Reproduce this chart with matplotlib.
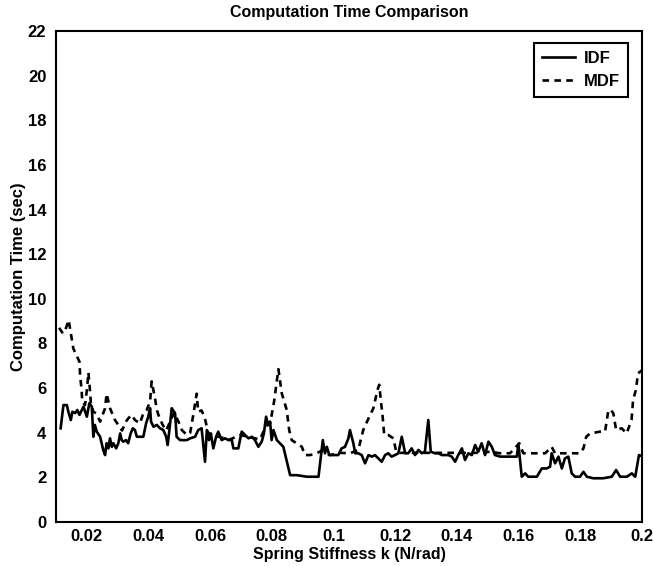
import matplotlib
matplotlib.use('Agg')
import matplotlib.pyplot as plt

plt.rcParams['font.family'] = ['Liberation Sans', 'DejaVu Sans']
plt.rcParams['font.weight'] = 'bold'

# IDF (solid)
idf_k = [0.0115, 0.0124, 0.0135, 0.0140, 0.0148, 0.0153, 0.0162, 0.0169, 0.0176, 0.0183,
         0.0189, 0.0200, 0.0208, 0.0216, 0.0221, 0.0226, 0.0232, 0.0243, 0.0253, 0.0259,
         0.0264, 0.0270, 0.0275, 0.0281, 0.0286, 0.0295, 0.0302, 0.0308, 0.0313, 0.0318,
         0.0327, 0.0334, 0.0342, 0.0349, 0.0356, 0.0362, 0.0372, 0.0383, 0.0392, 0.0399,
         0.0405, 0.0408, 0.0416, 0.0427, 0.0437, 0.0448, 0.0457, 0.0462, 0.0470, 0.0475,
         0.0486, 0.0491, 0.0502, 0.0513, 0.0524, 0.0535, 0.0551, 0.0561, 0.0572, 0.0583,
         0.0589, 0.0596, 0.0602, 0.0610, 0.0619, 0.0626, 0.0637, 0.0648, 0.0659, 0.0670,
         0.0675, 0.0691, 0.0702, 0.0713, 0.0724, 0.0735, 0.0745, 0.0756, 0.0767, 0.0774,
         0.0781, 0.0788, 0.0794, 0.0799, 0.0805, 0.0816, 0.0826, 0.0837, 0.0859, 0.0880,
         0.0913, 0.0951, 0.0965, 0.0972, 0.0978, 0.0986, 0.0999, 0.1015, 0.1026, 0.1037,
         0.1048, 0.1053, 0.1064, 0.1070, 0.1080, 0.1091, 0.1102, 0.1113, 0.1124, 0.1134,
         0.1145, 0.1156, 0.1167, 0.1177, 0.1188, 0.1199, 0.1210, 0.1221, 0.1232, 0.1242,
         0.1253, 0.1264, 0.1275, 0.1286, 0.1296, 0.1307, 0.1315, 0.1329, 0.1340, 0.1351,
         0.1361, 0.1372, 0.1383, 0.1394, 0.1404, 0.1416, 0.1426, 0.1437, 0.1448, 0.1459,
         0.1469, 0.1480, 0.1491, 0.1502, 0.1513, 0.1523, 0.1540, 0.1561, 0.1594, 0.1599,
         0.1610, 0.1621, 0.1631, 0.1642, 0.1659, 0.1675, 0.1691, 0.1702, 0.1707, 0.1718,
         0.1729, 0.1740, 0.1750, 0.1761, 0.1772, 0.1783, 0.1799, 0.1810, 0.1821, 0.1842,
         0.1874, 0.1902, 0.1916, 0.1929, 0.1951, 0.1967, 0.1978, 0.1990, 0.2000]
idf_t = [4.2, 5.24, 5.24, 4.94, 4.57, 4.94, 4.88, 5.02, 4.8, 5.0,
         5.17, 4.72, 5.32, 5.17, 3.82, 4.35, 4.05, 3.82, 3.23, 3.0,
         3.53, 3.3, 3.75, 3.37, 3.53, 3.3, 3.53, 3.97, 3.67, 3.6,
         3.67, 3.53, 3.97, 4.2, 4.12, 3.82, 3.82, 3.82, 4.42, 4.72,
         5.1, 4.5, 4.27, 4.35, 4.2, 4.12, 3.82, 3.45, 4.42, 5.1,
         4.87, 3.82, 3.67, 3.67, 3.67, 3.75, 3.82, 4.12, 4.2, 2.7,
         4.12, 3.67, 3.97, 3.3, 3.82, 4.05, 3.67, 3.75, 3.67, 3.67,
         3.3, 3.3, 4.05, 3.9, 3.75, 3.82, 3.67, 3.37, 3.6, 3.97,
         4.72, 4.35, 4.5, 3.67, 4.12, 3.67, 3.53, 3.37, 2.1, 2.1,
         2.03, 2.03, 3.67, 3.08, 3.37, 3.0, 3.0, 3.0, 3.3, 3.37,
         3.75, 4.12, 3.53, 3.08, 3.08, 3.0, 2.63, 3.0, 2.93, 3.0,
         2.85, 2.7, 3.0, 3.08, 2.93, 3.0, 3.08, 3.82, 3.08, 3.08,
         3.3, 3.0, 3.23, 3.08, 3.15, 4.57, 3.15, 3.08, 3.08, 3.0,
         3.0, 3.0, 2.93, 2.7, 3.0, 3.3, 2.78, 3.08, 3.0, 3.45,
         3.15, 3.53, 3.0, 3.6, 3.37, 3.0, 2.93, 2.93, 2.93, 3.5,
         2.03, 2.18, 2.03, 2.03, 2.03, 2.4, 2.4, 2.48, 3.08, 2.63,
         2.93, 2.4, 2.85, 2.93, 2.18, 2.03, 2.03, 2.25, 2.03, 1.96,
         1.96, 2.03, 2.33, 2.03, 2.03, 2.18, 2.03, 3.0, 2.95]

# MDF (dashed)
mdf_k = [0.0110, 0.0122, 0.0130, 0.0141, 0.0156, 0.0176, 0.0178, 0.0183, 0.0185, 0.0194,
         0.0200, 0.0205, 0.0210, 0.0213, 0.0221, 0.0230, 0.0243, 0.0259, 0.0264, 0.0275,
         0.0291, 0.0302, 0.0314, 0.0327, 0.0334, 0.0345, 0.0356, 0.0372, 0.0383, 0.0394,
         0.0405, 0.0410, 0.0421, 0.0427, 0.0432, 0.0444, 0.0457, 0.0470, 0.0483, 0.0502,
         0.0508, 0.0524, 0.0535, 0.0545, 0.0556, 0.0561, 0.0572, 0.0583, 0.0593, 0.0606,
         0.0632, 0.0664, 0.0697, 0.0729, 0.0761, 0.0781, 0.0794, 0.0807, 0.0821, 0.0832,
         0.0848, 0.0856, 0.0864, 0.0880, 0.0897, 0.0907, 0.0924, 0.0945, 0.0962, 0.0988,
         0.1021, 0.1053, 0.1080, 0.1096, 0.1113, 0.1129, 0.1142, 0.1148, 0.1153, 0.1159,
         0.1164, 0.1177, 0.1194, 0.1202, 0.1215, 0.1248, 0.1280, 0.1313, 0.1345, 0.1378,
         0.1410, 0.1442, 0.1475, 0.1507, 0.1540, 0.1572, 0.1602, 0.1615, 0.1647, 0.1686,
         0.1707, 0.1718, 0.1756, 0.1799, 0.1810, 0.1819, 0.1832, 0.1864, 0.1880, 0.1886,
         0.1891, 0.1900, 0.1907, 0.1916, 0.1934, 0.1950, 0.1966, 0.1971, 0.1980, 0.1987,
         0.2000]
mdf_t = [8.7, 8.45, 8.6, 9.05, 7.78, 7.18, 6.58, 5.91, 5.39, 5.24,
         5.91, 6.7, 5.91, 5.32, 4.94, 4.87, 4.5, 5.1, 5.75, 5.1,
         4.57, 4.35, 4.1, 4.5, 4.64, 4.8, 4.57, 4.42, 4.87, 5.02,
         5.4, 6.3, 5.54, 5.02, 4.8, 4.4, 4.1, 4.5, 4.9, 4.35,
         4.12, 3.9, 4.0, 4.8, 5.75, 4.94, 5.0, 4.64, 4.0, 3.9,
         3.8, 3.7, 3.9, 3.8, 3.7, 4.3, 4.4, 5.4, 6.85, 5.76,
         5.02, 4.12, 3.67, 3.53, 3.37, 3.0, 3.0, 3.08, 3.2, 3.0,
         3.1, 3.08, 3.23, 4.12, 4.64, 5.1, 5.91, 6.15, 5.47, 4.72,
         3.9, 3.9, 3.75, 3.2, 3.1, 3.1, 3.1, 3.1, 3.1, 3.1,
         3.1, 3.1, 3.1, 3.15, 3.08, 3.08, 3.53, 3.08, 3.08, 3.08,
         3.37, 3.08, 3.08, 3.08, 3.3, 3.82, 3.97, 4.05, 4.05, 4.57,
         5.02, 5.0, 4.87, 4.12, 4.2, 3.97, 4.57, 5.47, 5.91, 6.66,
         6.8]

xticks = [0.02, 0.04, 0.06, 0.08, 0.1, 0.12, 0.14, 0.16, 0.18, 0.2]
xtick_labels = ['0.02', '0.04', '0.06', '0.08', '0.1', '0.12', '0.14', '0.16', '0.18', '0.2']
yticks = list(range(0, 23, 2))

fig = plt.figure(figsize=(6.53, 5.66), dpi=100)
ax = fig.add_axes([0.0858, 0.0777, 0.8974, 0.8675])

ax.plot(idf_k, idf_t, color='black', lw=1.9, label='IDF')
ax.plot(mdf_k, mdf_t, color='black', lw=1.9, linestyle=(0, (2.5, 2.0)), label='MDF')

ax.set_xlim(0.01, 0.2)
ax.set_ylim(0, 22)
ax.set_xticks(xticks)
ax.set_xticklabels(xtick_labels)
ax.set_yticks(yticks)
ax.tick_params(axis='x', length=0, labelsize=12, pad=5)
ax.tick_params(axis='y', length=0, labelsize=12, pad=7)
for s in ax.spines.values():
    s.set_linewidth(1.5)

ax.set_title('Computation Time Comparison', fontsize=11.5, fontweight='bold', pad=10)
ax.set_xlabel('Spring Stiffness k (N/rad)', fontsize=11.5, fontweight='bold', labelpad=2.5)
ax.set_ylabel('Computation Time (sec)', fontsize=12, fontweight='bold', labelpad=1)

leg = ax.legend(loc='upper right', fontsize=12, fancybox=False, framealpha=1,
                edgecolor='black', handlelength=2.0, handletextpad=0.5,
                borderpad=0.5, labelspacing=0.45, borderaxespad=0,
                bbox_to_anchor=(0.976, 0.976))
leg.get_frame().set_linewidth(1.5)

plt.savefig('out.png', dpi=100)
